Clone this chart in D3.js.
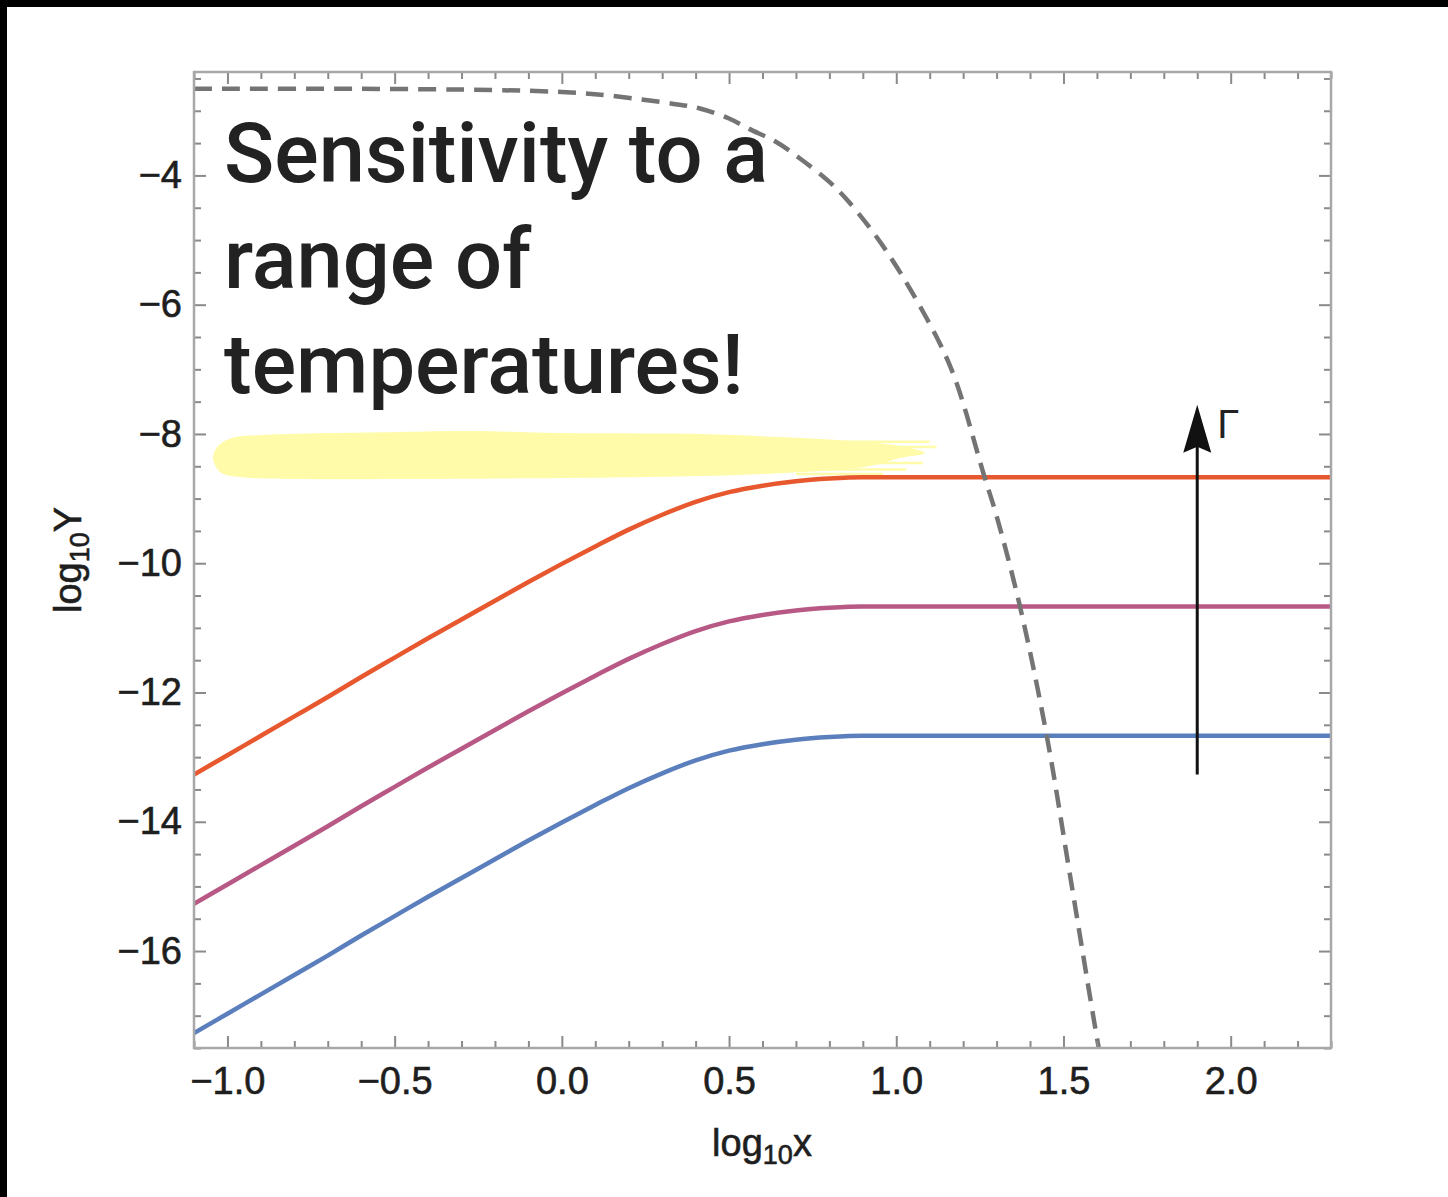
<!DOCTYPE html>
<html>
<head>
<meta charset="utf-8">
<script src="https://cdn.jsdelivr.net/npm/d3@7"></script>
<style>
  body { margin: 0; background: #fff; }
  svg { display: block; }
</style>
</head>
<body>
<div id="chart"></div>
<script>
// sampled log10 x positions for the three rate curves
var xSamples = [-1.1, -1.0, -0.9, -0.8, -0.7, -0.6, -0.5, -0.4, -0.3, -0.2, -0.1, 0.0,
                0.1, 0.2, 0.3, 0.4, 0.5, 0.6, 0.7, 0.8, 0.9, 1.0, 1.5, 2.0, 2.3];
var redY = [-13.27, -12.97, -12.67, -12.37, -12.07, -11.76, -11.46, -11.16, -10.87, -10.58, -10.29, -10.01,
            -9.74, -9.48, -9.25, -9.05, -8.90, -8.80, -8.73, -8.69, -8.67, -8.67, -8.67, -8.67, -8.67];
var purpleY = [-15.27, -14.97, -14.67, -14.37, -14.07, -13.76, -13.46, -13.16, -12.87, -12.58, -12.29, -12.01,
               -11.74, -11.48, -11.25, -11.05, -10.90, -10.80, -10.73, -10.69, -10.67, -10.67, -10.67, -10.67, -10.67];
var blueY = [-17.27, -16.97, -16.67, -16.37, -16.07, -15.76, -15.46, -15.16, -14.87, -14.58, -14.29, -14.01,
             -13.74, -13.48, -13.25, -13.05, -12.90, -12.80, -12.73, -12.69, -12.67, -12.67, -12.67, -12.67, -12.67];

// dashed curve
var dashX = [-1.1, -0.6, -0.2, 0.0, 0.15, 0.33, 0.41, 0.5, 0.56, 0.64, 0.71, 0.8, 0.86, 0.96,
             1.065, 1.165, 1.263, 1.3, 1.37, 1.45, 1.52, 1.6, 1.62];
var dashY = [-2.66, -2.66, -2.68, -2.71, -2.77, -2.89, -2.96, -3.12, -3.28, -3.48, -3.73, -4.10, -4.42, -5.09,
             -5.97, -7.0, -8.65, -9.27, -10.67, -12.67, -14.84, -17.34, -17.9];

var xMajor = [-1.0, -0.5, 0.0, 0.5, 1.0, 1.5, 2.0];
var yMajor = [-16, -14, -12, -10, -8, -6, -4];
var titleLines = ["Sensitivity to a", "range of", "temperatures!"];

// highlighter stroke outline (data units)
var hlX = [-1.043, -1.028, -0.986, -0.903, -0.484, -0.275, -0.005, 0.413, 0.652, 0.862, 1.011, 1.086,
           1.011, 0.922, 0.772, 0.413, -0.005, -0.484, -0.783, -0.962, -1.022];
var hlY = [-8.372, -8.186, -8.062, -8.016, -7.969, -7.954, -7.985, -8.0, -8.047, -8.109, -8.186, -8.294,
           -8.372, -8.495, -8.573, -8.650, -8.681, -8.697, -8.697, -8.666, -8.588];

drawChart();

function drawChart(){
    var width = 1448, height = 1197;
    var pLeft = 194, pRight = 1331, pTop = 72, pBottom = 1048;

    var svg = d3.select("#chart").append("svg")
        .attr("width", width)
        .attr("height", height);

    svg.append("rect").attr("width", width).attr("height", height).attr("fill", "#fff");

    var x = d3.scaleLinear().domain([-1.1, 2.3]).range([pLeft, pRight]);
    var y = d3.scaleLinear().domain([-17.5, -2.4]).range([pBottom, pTop]);

    svg.append("clipPath").attr("id", "plotclip")
      .append("rect")
        .attr("x", pLeft).attr("y", pTop)
        .attr("width", pRight - pLeft).attr("height", pBottom - pTop);

    // highlighter
    var hlPts = hlX.map(function(d, i){ return [x(d), y(hlY[i])]; });
    svg.append("path")
        .attr("d", d3.line().curve(d3.curveCatmullRomClosed)(hlPts))
        .attr("fill", "#fffba8");
    // feathered streaks at the tail
    var streaks = [[0.80, -8.12, 1.10], [0.85, -8.20, 1.12], [0.75, -8.55, 1.03], [0.90, -8.45, 1.08], [0.70, -8.62, 0.96]];
    streaks.forEach(function(s){
        svg.append("line")
          .attr("x1", x(s[0])).attr("x2", x(s[2]))
          .attr("y1", y(s[1])).attr("y2", y(s[1]))
          .attr("stroke", "#fffba8").attr("stroke-width", 2.5);
    });

    var plot = svg.append("g").attr("clip-path", "url(#plotclip)");

    var line = d3.line()
        .x(function(d){ return x(d[0]); })
        .y(function(d){ return y(d[1]); })
        .curve(d3.curveMonotoneX);

    var series = [
      { vals: blueY, color: "#5b7fbd" },
      { vals: purpleY, color: "#b85985" },
      { vals: redY, color: "#e8582f" }
    ];
    series.forEach(function(s){
        plot.append("path")
          .datum(xSamples.map(function(v, i){ return [v, s.vals[i]]; }))
          .attr("d", line)
          .attr("fill", "none")
          .attr("stroke", s.color)
          .attr("stroke-width", 4.5);
    });

    plot.append("path")
        .datum(dashX.map(function(v, i){ return [v, dashY[i]]; }))
        .attr("d", d3.line().x(function(d){ return x(d[0]); }).y(function(d){ return y(d[1]); }).curve(d3.curveCatmullRom))
        .attr("fill", "none")
        .attr("stroke", "#747474")
        .attr("stroke-width", 4.5)
        .attr("stroke-dasharray", "18,10");

    // ticks
    var xMinor = d3.range(-11, 24).map(function(i){ return i / 10; })
        .filter(function(v){ return Math.abs(v * 2 - Math.round(v * 2)) > 1e-6; });
    var yMinor = d3.range(-35, -4).map(function(i){ return i / 2; })
        .filter(function(v){ return v % 2 !== 0; });

    function styleAxis(g){
        g.select(".domain").remove();
        g.selectAll(".tick line").attr("stroke", "#8a8a8a").attr("stroke-width", 2);
        g.selectAll(".tick text")
          .attr("font-family", "'Liberation Sans', Arial, sans-serif")
          .attr("font-size", 38)
          .attr("fill", "#1e1e1e")
          .attr("stroke", "#1e1e1e")
          .attr("stroke-width", 0.6);
    }

    svg.append("g").attr("transform", "translate(0," + pBottom + ")")
        .call(d3.axisBottom(x).tickValues(xMajor).tickSize(-12).tickPadding(19).tickFormat(d3.format(".1f")))
        .call(styleAxis);
    svg.append("g").attr("transform", "translate(0," + pBottom + ")")
        .call(d3.axisBottom(x).tickValues(xMinor).tickSize(-7).tickFormat(""))
        .call(styleAxis);
    svg.append("g").attr("transform", "translate(0," + pTop + ")")
        .call(d3.axisTop(x).tickValues(xMajor).tickSize(-12).tickFormat(""))
        .call(styleAxis);
    svg.append("g").attr("transform", "translate(0," + pTop + ")")
        .call(d3.axisTop(x).tickValues(xMinor).tickSize(-7).tickFormat(""))
        .call(styleAxis);

    svg.append("g").attr("transform", "translate(" + pLeft + ",0)")
        .call(d3.axisLeft(y).tickValues(yMajor).tickSize(-12).tickPadding(12).tickFormat(d3.format("d")))
        .call(styleAxis);
    svg.append("g").attr("transform", "translate(" + pLeft + ",0)")
        .call(d3.axisLeft(y).tickValues(yMinor).tickSize(-7).tickFormat(""))
        .call(styleAxis);
    svg.append("g").attr("transform", "translate(" + pRight + ",0)")
        .call(d3.axisRight(y).tickValues(yMajor).tickSize(-12).tickFormat(""))
        .call(styleAxis);
    svg.append("g").attr("transform", "translate(" + pRight + ",0)")
        .call(d3.axisRight(y).tickValues(yMinor).tickSize(-7).tickFormat(""))
        .call(styleAxis);

    svg.append("rect")
        .attr("x", pLeft).attr("y", pTop)
        .attr("width", pRight - pLeft).attr("height", pBottom - pTop)
        .attr("fill", "none")
        .attr("stroke", "#a8a8a8")
        .attr("stroke-width", 2.5);

    // axis titles
    var xt = svg.append("text")
        .attr("x", 762)
        .attr("y", 1156)
        .attr("text-anchor", "middle")
        .attr("font-family", "'Liberation Sans', Arial, sans-serif")
        .attr("font-size", 38)
        .attr("fill", "#1e1e1e")
        .attr("stroke", "#1e1e1e")
        .attr("stroke-width", 0.6);
    xt.append("tspan").text("log");
    xt.append("tspan").attr("font-size", 27).attr("dy", 8).text("10");
    xt.append("tspan").attr("dy", -8).text("x");

    var yt = svg.append("text")
        .attr("transform", "translate(81,560) rotate(-90)")
        .attr("text-anchor", "middle")
        .attr("font-family", "'Liberation Sans', Arial, sans-serif")
        .attr("font-size", 38)
        .attr("fill", "#1e1e1e")
        .attr("stroke", "#1e1e1e")
        .attr("stroke-width", 0.6);
    yt.append("tspan").text("log");
    yt.append("tspan").attr("font-size", 27).attr("dy", 8).text("10");
    yt.append("tspan").attr("dy", -8).text("Y");

    // arrow for increasing Gamma
    var arrowX = 1.9, arrowFrom = -13.27, arrowTo = -7.55;
    var ax = x(arrowX), ay0 = y(arrowFrom), ay1 = y(arrowTo);
    svg.append("line")
        .attr("x1", ax).attr("x2", ax)
        .attr("y1", ay0).attr("y2", ay1 + 40)
        .attr("stroke", "#111").attr("stroke-width", 3);
    svg.append("path")
        .attr("d", "M" + ax + "," + ay1 + " L" + (ax + 14) + "," + (ay1 + 48) +
                   " L" + ax + "," + (ay1 + 42) + " L" + (ax - 14) + "," + (ay1 + 48) + "Z")
        .attr("fill", "#111");
    svg.append("text")
        .attr("x", ax + 20)
        .attr("y", ay1 + 33)
        .attr("font-family", "'Liberation Sans', Arial, sans-serif")
        .attr("font-size", 40)
        .attr("fill", "#222")
        .text("Γ");

    // big annotation text
    var title = svg.append("g");
    titleLines.forEach(function(t, i){
        title.append("text")
          .attr("x", 224)
          .attr("y", 182 + i * 105.5)
          .attr("font-family", "Roboto, 'Noto Sans', sans-serif")
          .attr("font-weight", 500)
          .attr("font-size", 83)
          .attr("fill", "#222")
          .text(t);
    });

    // black border strips (top and left)
    svg.append("rect").attr("x", 0).attr("y", 0).attr("width", width).attr("height", 7).attr("fill", "#000");
    svg.append("rect").attr("x", 0).attr("y", 0).attr("width", 7).attr("height", height).attr("fill", "#000");
}
</script>
</body>
</html>
